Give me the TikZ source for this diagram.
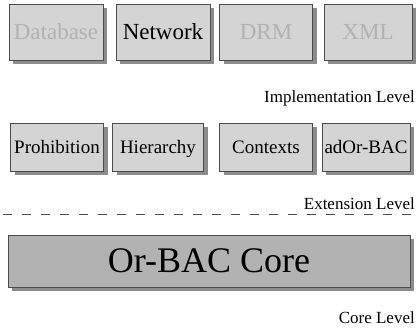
\documentclass[tikz,border=0pt]{standalone}
\usepackage{fontspec}
\IfFontExistsTF{Liberation Serif}{\setmainfont{Liberation Serif}}{\setmainfont{DejaVu Serif}}
\usetikzlibrary{shadows}

\tikzset{
  levelbox/.style={draw=black!70, fill=black!17, inner sep=0pt, text depth=0pt,
    drop shadow={shadow xshift=4pt, shadow yshift=-4pt, fill=black!45, opacity=1}},
  implbox/.style={levelbox, minimum height=56pt, text height=15.2pt, font=\rmfamily\fontsize{23}{26}\selectfont},
  extbox/.style={levelbox, minimum height=48pt, text height=12.6pt, font=\rmfamily\fontsize{19}{22}\selectfont},
  faded/.style={text=black!30},
  levellabel/.style={anchor=east, inner sep=0pt, font=\rmfamily\fontsize{17}{20}\selectfont}
}

\begin{document}
\begin{tikzpicture}[x=1pt,y=-1pt]
  \useasboundingbox (0,0) rectangle (417,333);
  % Implementation level
  \node[implbox,faded,minimum width=94pt] (DB)  at (56,32)  {Database};
  \node[implbox,minimum width=94pt]       (NET) at (163,32) {Network};
  \node[implbox,faded,minimum width=93pt] (DRM) at (266,32) {DRM};
  \node[implbox,faded,minimum width=88pt] (XML) at (368,32) {XML};
  \node[levellabel] (IL) at (415,98) {Implementation Level};
  % Extension level
  \node[extbox,minimum width=93pt] (PROH) at (57,147)  {Prohibition};
  \node[extbox,minimum width=91pt] (HIER) at (158,147) {Hierarchy};
  \node[extbox,minimum width=93pt] (CTX)  at (266,147) {Contexts};
  \node[extbox,minimum width=88pt] (ADOR) at (366,147) {adOr-BAC};
  \node[levellabel] (EL) at (415,204) {Extension Level};
  \coordinate (sepL) at (3,214);
  \coordinate (sepR) at (415,214);
  \draw[black!70, dash pattern=on 9pt off 10pt] (sepL) -- (sepR);
  % Core level
  \node[levelbox, fill=black!30, minimum width=402pt, minimum height=52pt, text height=23.8pt,
    font=\rmfamily\fontsize{36}{40}\selectfont] (CORE) at (209,261) {Or-BAC Core};
  \node[levellabel] (CL) at (415,318) {Core Level};
\end{tikzpicture}
\end{document}
